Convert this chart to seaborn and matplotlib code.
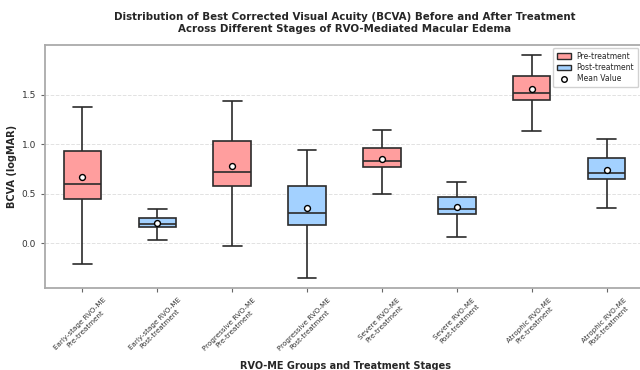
import matplotlib
matplotlib.use("Agg")
import matplotlib.pyplot as plt
import numpy as np
import pandas as pd
import seaborn as sns
from matplotlib.lines import Line2D
from matplotlib.patches import Patch

# --- data ---
groups = ["Early-stage RVO-ME", "Progressive RVO-ME", "Severe RVO-ME", "Atrophic RVO-ME"]
stages = ["Pre-treatment", "Post-treatment"]

# order: Early pre, Early post, Prog pre, Prog post, Severe pre, Severe post, Atrophic pre, Atrophic post
whisker_low = [-0.205, 0.035, -0.025, -0.35, 0.50, 0.063, 1.13, 0.355]
q1 = [0.45, 0.165, 0.58, 0.19, 0.765, 0.295, 1.45, 0.645]
median = [0.60, 0.20, 0.72, 0.31, 0.83, 0.345, 1.52, 0.71]
q3 = [0.93, 0.26, 1.03, 0.58, 0.96, 0.465, 1.685, 0.86]
whisker_high = [1.37, 0.35, 1.44, 0.94, 1.14, 0.62, 1.90, 1.053]
mean_value = [0.665, 0.21, 0.78, 0.36, 0.85, 0.37, 1.555, 0.74]

labels = [f"{g}\n{s}" for g in groups for s in stages]
stage_of = [s for g in groups for s in stages]

rows = []
for i, lab in enumerate(labels):
    for v in (whisker_low[i], q1[i], median[i], q3[i], whisker_high[i]):
        rows.append({"label": lab, "stage": stage_of[i], "bcva": v})
df = pd.DataFrame(rows)

palette = {"Pre-treatment": "#ff9e9e", "Post-treatment": "#a3d1ff"}
edge = "#2b2b2b"

sns.set_style("ticks")
plt.rcParams["font.family"] = ["DejaVu Sans"]

fig = plt.figure(figsize=(6.4, 3.7), dpi=100)
ax = fig.add_axes([45 / 640, 1 - 288 / 370, 599 / 640, 243 / 370])

sns.boxplot(data=df, x="label", y="bcva", hue="stage", order=labels,
            hue_order=stages, palette=palette, saturation=1, dodge=False, width=0.5,
            whis=(0, 100), linewidth=1.2, linecolor=edge, legend=False, ax=ax)

ax.scatter(np.arange(len(labels)), mean_value, s=18, facecolor="white",
           edgecolor="black", linewidth=1.0, zorder=5)

ax.set_xlim(-0.5, 7.5)
ax.set_ylim(-0.45, 2.0)
ax.set_yticks([0.0, 0.5, 1.0, 1.5])
ax.yaxis.grid(True, linestyle="--", color="#e2e2e2", linewidth=0.7)
ax.set_axisbelow(True)
for sp in ax.spines.values():
    sp.set_visible(True)
    sp.set_color("#aaaaaa")
    sp.set_linewidth(1.3)

ax.tick_params(axis="y", labelsize=6.5, length=3, color="#666666", labelcolor="#333333")
ax.tick_params(axis="x", labelsize=5.1, length=3, color="#666666", labelcolor="#333333")
plt.setp(ax.get_xticklabels(), rotation=45, ha="center", multialignment="center")

ax.set_xlabel("")
ax.set_ylabel("BCVA (logMAR)", fontsize=7, fontweight="bold", labelpad=3)
fig.text(345 / 640, 1 - 366 / 370, "RVO-ME Groups and Treatment Stages",
         ha="center", va="center", fontsize=7, fontweight="bold")

fig.text(345 / 640, 1 - 23 / 370,
         "Distribution of Best Corrected Visual Acuity (BCVA) Before and After Treatment\n"
         "Across Different Stages of RVO-Mediated Macular Edema",
         ha="center", va="center", fontsize=7.4, fontweight="bold", linespacing=1.3)

handles = [Patch(facecolor=palette["Pre-treatment"], edgecolor=edge, label="Pre-treatment"),
           Patch(facecolor=palette["Post-treatment"], edgecolor=edge, label="Post-treatment"),
           Line2D([], [], marker="o", linestyle="none", markerfacecolor="white",
                  markeredgecolor="black", markersize=4, label="Mean Value")]
fig.legend(handles=handles, loc="upper right", bbox_to_anchor=(1.003, 1 - 44 / 370),
           fontsize=5.5, frameon=True, handlelength=1.8, borderpad=0.5,
           labelspacing=0.3, framealpha=0.9, edgecolor="#cccccc")

fig.savefig("out.png", dpi=100)
